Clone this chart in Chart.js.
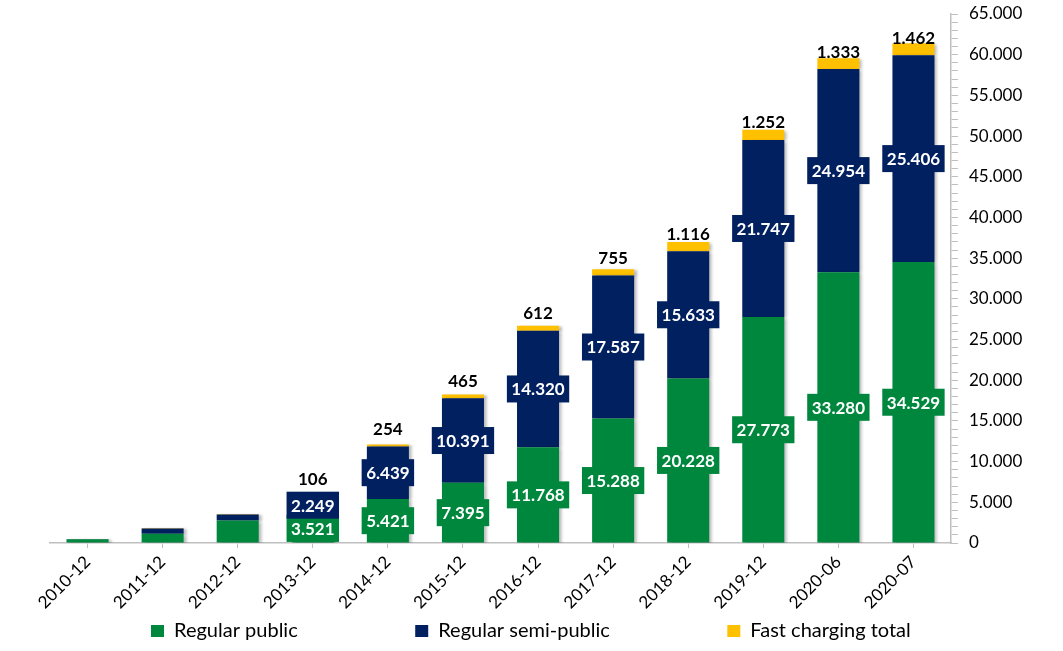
<!DOCTYPE html>
<html><head><meta charset="utf-8">
<script src="https://cdn.jsdelivr.net/npm/chart.js@4"></script>
<style>html,body{margin:0;padding:0;background:#fff;overflow:hidden}</style>
</head><body>
<canvas id="c" width="1063" height="651"></canvas>
<script>
const categories = ['2010-12','2011-12','2012-12','2013-12','2014-12','2015-12','2016-12','2017-12','2018-12','2019-12','2020-06','2020-07'];
const regularPublic = [460, 1150, 2750, 3521, 5421, 7395, 11768, 15288, 20228, 27773, 33280, 34529];
const regularSemiPublic = [30, 620, 740, 2249, 6439, 10391, 14320, 17587, 15633, 21747, 24954, 25406];
const fastChargingTotal = [5, 60, 80, 106, 254, 465, 612, 755, 1116, 1252, 1333, 1462];
const seriesNames = ['Regular public', 'Regular semi-public', 'Fast charging total'];
const labelledFrom = 3;
const yMax = 65000;
const yMajorStep = 5000;
const yMinorStep = 1000;

const GREEN = '#00873E', NAVY = '#002060', YELLOW = '#FFC000';
const FONT = 'Lato';
const LEGEND_SIZE = 20;
const fmt = v => String(Math.round(v)).replace(/\B(?=(\d{3})+(?!\d))/g, '.');

const mctx = document.createElement('canvas').getContext('2d');
mctx.font = LEGEND_SIZE + 'px ' + FONT;
const nbsp = mctx.measureText('\u00A0').width || 4;
const legendGapPx = [106, 105, 52];

const barShadowAndLabels = {
  id: 'barShadowAndLabels',
  beforeDatasetsDraw(chart) {
    const c = chart.ctx; c.save();
    c.shadowColor = 'rgba(0,0,0,0.28)'; c.shadowBlur = 3; c.shadowOffsetX = 3; c.shadowOffsetY = 1;
  },
  afterDatasetsDraw(chart) {
    const c = chart.ctx; c.restore();
    c.save();
    c.shadowColor = 'rgba(0,0,0,0)'; c.shadowBlur = 0; c.shadowOffsetX = 0; c.shadowOffsetY = 0;
    c.font = 'bold 17px ' + FONT;
    c.textAlign = 'center'; c.textBaseline = 'middle';
    chart.data.datasets.forEach((ds, di) => {
      const meta = chart.getDatasetMeta(di);
      meta.data.forEach((el, i) => {
        if (i < labelledFrom) return;
        const txt = fmt(ds.data[i]);
        if (ds.labelBox) {
          const cy = (el.y + el.base) / 2;
          const w = c.measureText(txt).width + 9, h = 27;
          c.fillStyle = ds.backgroundColor;
          c.fillRect(el.x - w / 2, cy - h / 2, w, h);
          c.fillStyle = '#fff';
          c.fillText(txt, el.x, cy + 1);
        } else {
          c.fillStyle = '#000';
          c.fillText(txt, el.x, el.base - 17);
        }
      });
    });
    c.restore();
  }
};

new Chart(document.getElementById('c'), {
  type: 'bar',
  data: {
    labels: categories,
    datasets: [
      { label: seriesNames[0], data: regularPublic, backgroundColor: GREEN, labelBox: true },
      { label: seriesNames[1], data: regularSemiPublic, backgroundColor: NAVY, labelBox: true },
      { label: seriesNames[2], data: fastChargingTotal, backgroundColor: YELLOW, labelBox: false }
    ]
  },
  options: {
    responsive: false,
    animation: false,
    devicePixelRatio: 1,
    layout: { padding: { left: 50, top: 14, right: 0, bottom: 0 } },
    datasets: { bar: { categoryPercentage: 1, barPercentage: 0.56, borderWidth: 0 } },
    scales: {
      x: {
        stacked: true,
        grid: { display: true, offset: false, drawOnChartArea: false, tickLength: 5, color: '#BFBFBF' },
        border: { color: '#BFBFBF', width: 1.5 },
        ticks: { minRotation: 45, maxRotation: 45, color: '#000', font: { family: FONT, size: 17 }, padding: 4 },
        afterFit(s) { s.height = 68; s.paddingLeft = 0; s.paddingRight = 0; }
      },
      y: {
        stacked: true,
        position: 'right',
        min: 0, max: yMax,
        grid: { drawOnChartArea: false, tickLength: 7, color: '#BFBFBF' },
        border: { color: '#BFBFBF', width: 1.5 },
        ticks: {
          stepSize: yMinorStep, autoSkip: false, color: '#000', padding: 11,
          font: { family: FONT, size: 17 },
          callback: v => (v % yMajorStep === 0 ? fmt(v) : '')
        },
        afterFit(s) { s.width = 112; s.paddingTop = 0; s.paddingBottom = 0; }
      }
    },
    plugins: {
      tooltip: { enabled: false },
      legend: {
        position: 'bottom',
        labels: {
          boxWidth: 13, boxHeight: 12, padding: 10, color: '#000',
          font: { family: FONT, size: LEGEND_SIZE },
          generateLabels(chart) {
            const items = Chart.defaults.plugins.legend.labels.generateLabels(chart);
            items.forEach((it, i) => { it.text = it.text + '\u00A0'.repeat(Math.round(legendGapPx[i] / nbsp)); });
            return items;
          }
        }
      }
    }
  },
  plugins: [barShadowAndLabels]
});
</script>
</body></html>
